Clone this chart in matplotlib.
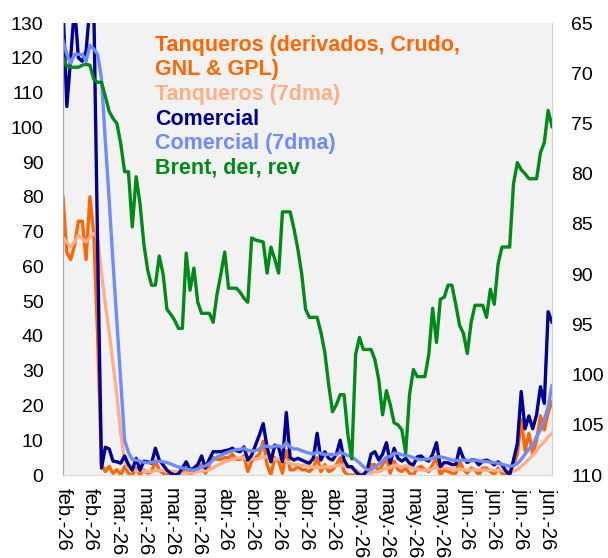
import matplotlib.pyplot as plt
import numpy as np
import pandas as pd

plt.rcParams["font.family"] = ["Liberation Sans", "DejaVu Sans"]

# daily data, 19-feb-2026 .. 26-jun-2026
dates = pd.date_range("2026-02-19", "2026-06-26", freq="D")
tick_dates = pd.date_range("2026-02-19", periods=19, freq="7D")
tick_labels = ["feb.-26", "feb.-26", "mar.-26", "mar.-26", "mar.-26", "mar.-26",
               "abr.-26", "abr.-26", "abr.-26", "abr.-26", "abr.-26",
               "may.-26", "may.-26", "may.-26", "may.-26",
               "jun.-26", "jun.-26", "jun.-26", "jun.-26"]

tanqueros = [80, 64, 62, 66, 73, 73, 62, 80, 69, 40, 3,
             1, 2.5, 0.5, 1.5, 0, 2.5, 0.5, 0, 2, 0,
             1.5, 0.5, 1, 4, 1.5, 0.5, 0, 0, 0.3, 0,
             1, 2, 0, 1, 2, 3, 0.5, 3, 5, 4.5,
             4.5, 5, 5, 6, 4.5, 4.5, 5.5, 1, 4, 5,
             6, 9.7, 3, 0, 5, 4, 0.5, 7, 1.5, 1.5,
             2.5, 1.5, 1.5, 1, 2, 5, 1, 3, 1, 1.5,
             3, 5, 1, 0, 0, 0, 0, 0, 0.5, 3,
             3, 1, 3, 5, 0.5, 4, 1.5, 1, 2, 0.5,
             0, 2, 2.5, 1.5, 1, 3, 5, 0, 1.5, 1,
             0.5, 0.5, 4, 1.5, 0.5, 2, 1.5, 0, 2, 2,
             1, 0, 2, 0.5, 0, 0.5, 3, 6, 16, 7,
             12, 6, 10, 17, 13, 18, 21]

tanqueros_7d = [68.4, 67, 65.6, 67, 69, 68, 67, 68.5, 69.5, 68.4, 58,
                49, 41, 32, 23, 12, 4, 2, 1.5, 1.3, 1.2,
                1.2, 1.0, 1.0, 1.3, 1.3, 1.3, 1.2, 1.1, 1.0, 0.8,
                0.5, 0.5, 0.6, 0.6, 0.9, 1.2, 1.3, 1.5, 2.1, 2.7,
                3.3, 3.8, 4.1, 4.6, 4.9, 4.9, 5.0, 4.5, 4.6, 4.7,
                4.7, 5.3, 5.2, 4.5, 4.6, 4.7, 4.0, 4.2, 3.3, 3.0,
                3.0, 2.7, 2.9, 2.5, 2.2, 2.2, 2.1, 2.4, 2.3, 2.4,
                2.7, 2.8, 2.6, 2.3, 1.8, 1.5, 0.8, 0.2, 0.1, 0.5,
                0.9, 1.0, 1.4, 2.1, 2.1, 2.8, 2.7, 2.4, 2.7, 2.3,
                1.8, 1.8, 1.4, 1.4, 1.4, 1.8, 2.1, 2.1, 2.1, 2.0,
                1.8, 1.5, 1.6, 1.6, 1.3, 1.5, 1.5, 1.4, 1.4, 1.4,
                1.4, 1.2, 1.4, 1.3, 1.0, 0.8, 1.1, 1.6, 2.5, 3.5,
                4.5, 5.7, 7, 8.5, 9.5, 11, 12]

comercial = [135, 106, 120, 135, 120, 119, 122, 135, 135, 65, 2,
             8, 7.5, 4, 3.8, 3.4, 5.5, 3, 1.4, 4.8, 1.4,
             4, 3.8, 3.4, 7.7, 4.3, 2.9, 1.4, 0.5, 0, 0.3,
             2, 3.8, 1.5, 2, 3, 5.5, 2, 4.5, 6.7, 6.7,
             6.7, 7, 7.2, 7.7, 7, 6.7, 8.1, 4.3, 5.7, 8.6,
             11.5, 14.8, 8, 3.8, 8.6, 8, 3.8, 18, 5, 4.3,
             4.8, 4.3, 3.8, 3.4, 4.8, 12, 4.3, 6.7, 4.8, 4.3,
             6, 10, 4.3, 2.4, 2.4, 1, 0, 0, 1.4, 6,
             6.7, 4.3, 6, 9.3, 3.4, 7.7, 4.8, 4, 4.8, 3.4,
             2.9, 5.2, 5.5, 4.5, 4, 6, 9.3, 2.4, 3.6, 3.5,
             3, 3, 7.7, 4.8, 3.6, 4.3, 4.3, 2.9, 4, 4.3,
             3.8, 2.9, 3.8, 2.9, 1.2, 0, 4.3, 9, 24, 13.3,
             17, 13.3, 17.4, 25.4, 20.6, 47, 44]

comercial_7d = [125, 121, 118.4, 121, 121, 121, 119, 123.6, 122.5, 121, 114,
                96, 79, 61, 44, 27, 10, 6.5, 4.5, 4.3, 4,
                3.7, 3.5, 3.6, 4, 3.9, 3.8, 3.6, 3.2, 2.7, 2.3,
                2, 1.8, 1.5, 1.4, 1.8, 2.4, 2.6, 3.3, 4.3, 5.2,
                5.6, 6.2, 6.6, 7.0, 7.3, 7.4, 7.7, 7.1, 6.9, 7.0,
                7.5, 8.3, 8.3, 7.9, 8.3, 8.4, 8.0, 9.3, 8.0, 7.5,
                7.5, 7.0, 6.6, 6.3, 6.0, 6.7, 6.1, 5.9, 5.9, 5.9,
                5.9, 6.5, 6.1, 5.6, 5.2, 4.4, 3.5, 2.4, 1.5, 1.5,
                2.4, 3.1, 4.0, 5.2, 5.3, 6.3, 6.2, 5.8, 5.7, 5.4,
                5.0, 4.6, 4.4, 4.6, 4.6, 4.8, 5.3, 5.2, 5.0, 4.7,
                4.3, 4.2, 4.2, 4.3, 4.2, 4.1, 4.3, 4.1, 3.9, 3.9,
                3.7, 3.5, 3.4, 3.1, 2.8, 2.5, 2.7, 3.3, 4.5, 6,
                7.5, 8.7, 11, 13, 16, 19.6, 25.7]

brent = [68.4, 69.3, 69.4, 69.4, 69.4, 69.2, 69.1, 69.2, 70.6, 70.9, 70.9,
         72.3, 73.8, 74.5, 75.0, 77.0, 79.8, 79.8, 85.3, 80.3, 83.0,
         87.0, 89.6, 91.1, 91.1, 88.2, 90.0, 93.5, 94.0, 94.6, 95.4,
         95.4, 87.9, 91.6, 89.4, 92.8, 93.9, 93.9, 93.9, 94.8, 92.0,
         90.0, 87.8, 91.4, 91.4, 91.4, 91.8, 92.4, 92.8, 86.4, 86.6,
         86.7, 86.8, 89.9, 87.3, 88.5, 89.9, 83.8, 83.8, 83.8, 85.5,
         87.5, 90.0, 93.5, 94.3, 94.3, 94.3, 95.8, 97.8, 101.0, 103.7,
         103.0, 102.0, 102.0, 106.0, 108.4, 98.0, 96.3, 97.5, 97.5, 97.5,
         98.5, 100.5, 104.0, 101.6, 103.0, 104.8, 105.0, 105.5, 107.8, 102.0,
         99.5, 100.2, 100.2, 100.2, 98.0, 93.4, 96.8, 92.5, 92.3, 91.1,
         91.1, 93.0, 95.1, 95.9, 97.9, 94.8, 93.1, 93.1, 93.1, 94.3,
         91.5, 93.0, 89.0, 87.3, 87.3, 87.3, 81.0, 78.9, 79.6, 80.0,
         80.5, 80.5, 80.5, 77.9, 76.9, 73.7, 75.3]

labels = ["Tanqueros (derivados, Crudo,\nGNL & GPL)", "Tanqueros (7dma)",
          "Comercial", "Comercial (7dma)", "Brent, der, rev"]
colors = ["#FF6600", "#FFAF87", "#000096", "#6E8BFF", "#008A17"]

fig = plt.figure(figsize=(6.08, 5.58), dpi=100)
ax = fig.add_axes([0.1036, 0.1487, 0.8043, 0.81])
ax.set_facecolor("#F2F2F2")
ax2 = ax.twinx()

lw = 2.4
ax.plot(dates, tanqueros, color=colors[0], lw=lw)
ax.plot(dates, tanqueros_7d, color=colors[1], lw=lw)
ax.plot(dates, comercial, color=colors[2], lw=lw)
ax.plot(dates, comercial_7d, color=colors[3], lw=lw)
ax2.plot(dates, brent, color=colors[4], lw=lw)

ax.set_xlim(dates[0], dates[-1])
ax.set_ylim(0, 130)
ax.set_yticks(np.arange(0, 131, 10))
ax2.set_ylim(110, 65)
ax2.set_yticks(np.arange(65, 111, 5))

ax.set_xticks(tick_dates)
ax.set_xticklabels(tick_labels, rotation=270)

ax.tick_params(axis="y", length=0, pad=14, labelsize=14)
ax.tick_params(axis="x", length=0, pad=9, labelsize=14.5)
ax2.tick_params(axis="y", length=0, pad=14, labelsize=14)

for a in (ax, ax2):
    a.spines["top"].set_visible(False)
    a.spines["left"].set_color("#A6A6A6")
    a.spines["bottom"].set_color("#D9D9D9")
    a.spines["right"].set_color("#D0D0D0")

# legend as coloured text lines
row = 0
for lab, col in zip(labels, colors):
    for line in lab.split("\n"):
        ax.text(0.188, 0.951 - row * 0.0545, line, transform=ax.transAxes,
                color=col, fontsize=15.5, fontweight="bold", va="center")
        row += 1

fig.savefig("out.png", dpi=100)
